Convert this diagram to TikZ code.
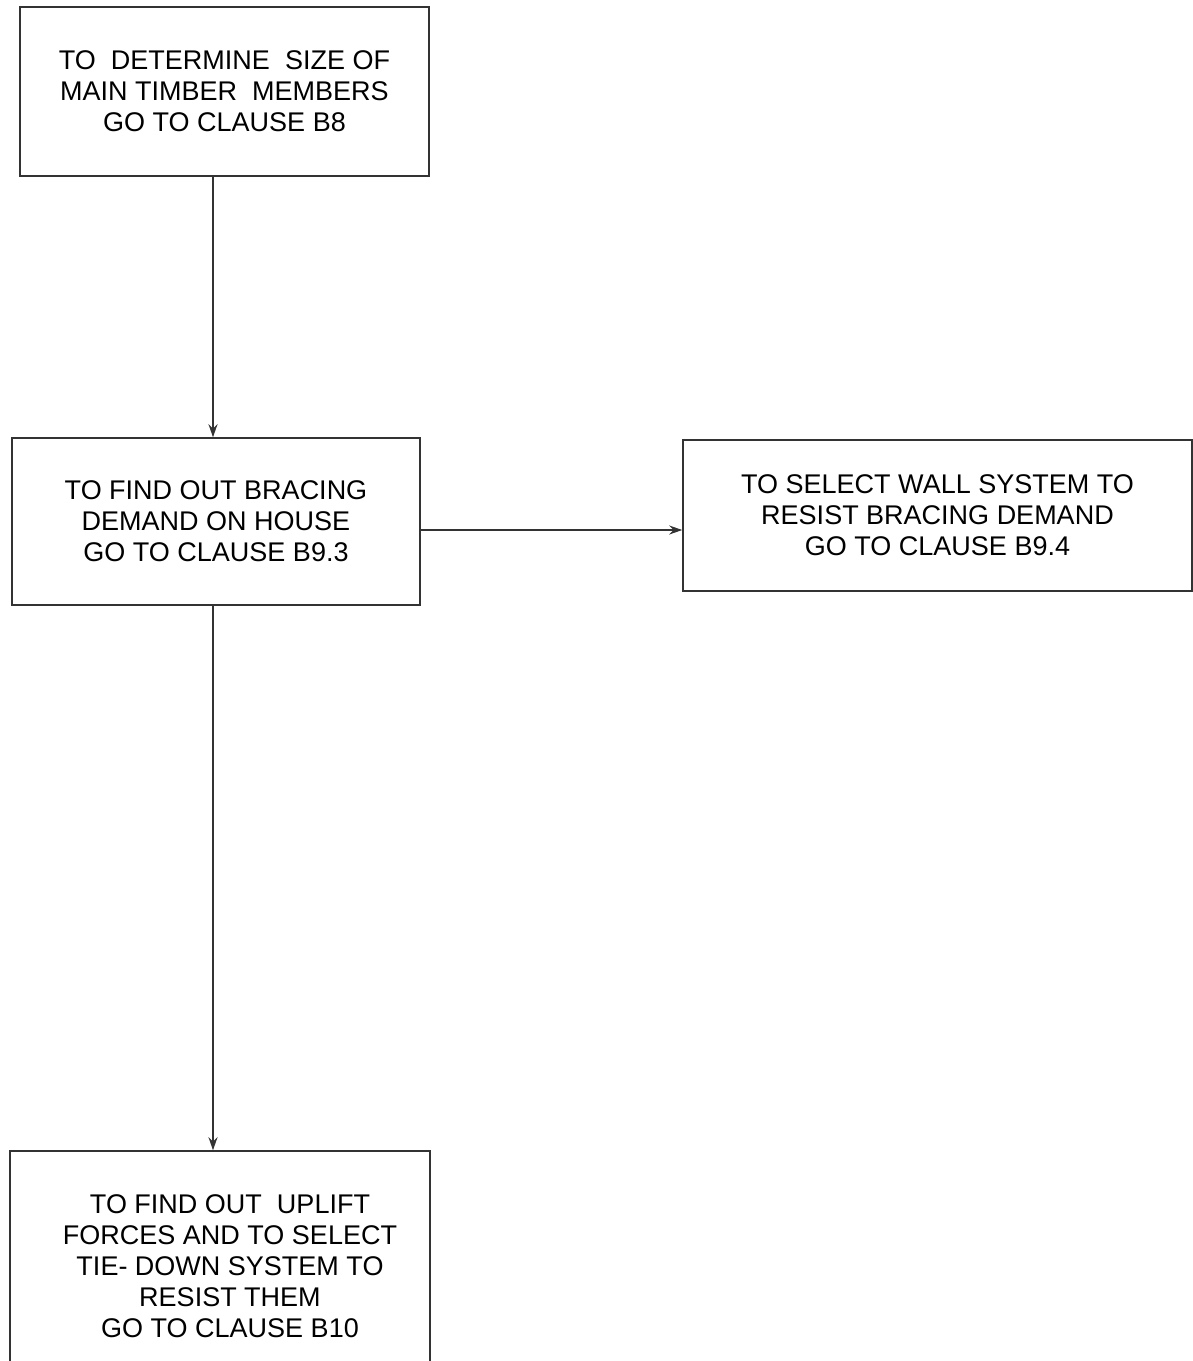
\documentclass[tikz,border=0pt]{standalone}
\usepackage{fontspec}
\setmainfont{Liberation Sans}
\usetikzlibrary{arrows.meta}

\tikzset{
  clausebox/.style={draw=black!80,line width=1.5pt,align=center,inner sep=0pt,
    font=\fontsize{27}{31}\selectfont},
  flow/.style={draw=black!80,line width=1.5pt,-{Stealth[length=13pt,width=9pt]}}
}

\begin{document}
\begin{tikzpicture}[x=1pt,y=-1pt]
  \useasboundingbox (0,0) rectangle (1193,1361);
  \clip (0,0) rectangle (1193,1361);
  \fill[white] (0,0) rectangle (1193,1361);
  % clause boxes
  \node[clausebox,minimum width=409pt,minimum height=169pt] (sizes) at (224.5,91.5)
    {TO\ \ DETERMINE\ \ SIZE OF\\MAIN TIMBER\ \ MEMBERS\\GO TO CLAUSE B8};
  \node[clausebox,minimum width=408pt,minimum height=167pt] (demand) at (216,521.5)
    {TO FIND OUT BRACING\\DEMAND ON HOUSE\\GO TO CLAUSE B9.3};
  \node[clausebox,minimum width=509pt,minimum height=151pt] (walls) at (937.5,515.5)
    {TO SELECT WALL SYSTEM TO\\RESIST BRACING DEMAND\\GO TO CLAUSE B9.4};
  \node[clausebox,minimum width=420pt,minimum height=230pt] (uplift) at (220,1266) {};
  \node[font=\fontsize{27}{31}\selectfont,align=center,inner sep=0pt] (upliftText)
    at (230,1266)
    {TO FIND OUT\ \ UPLIFT\\FORCES AND TO SELECT\\TIE- DOWN SYSTEM TO\\RESIST THEM\\GO TO CLAUSE B10};
  % connectors
  \coordinate (axis) at (213,0);
  \coordinate (mid) at (0,530);
  \draw[flow] (sizes.south -| axis) -- (demand.north -| axis);
  \draw[flow] (demand.south -| axis) -- (uplift.north -| axis);
  \draw[flow] (demand.east |- mid) -- (walls.west |- mid);
\end{tikzpicture}
\end{document}
